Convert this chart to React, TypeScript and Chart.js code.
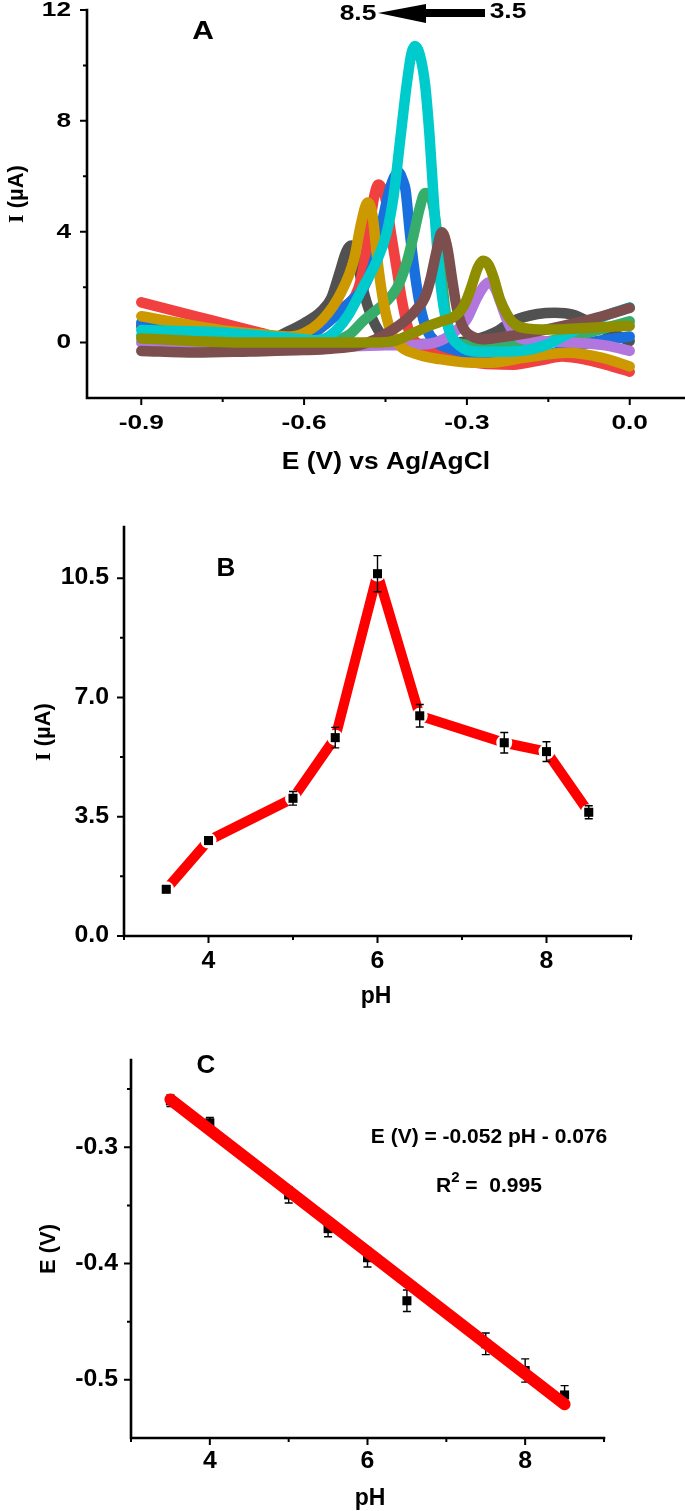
import React, { useEffect, useRef } from 'react';
import { Chart, registerables } from 'chart.js';

Chart.register(...registerables);

const SANS = '"Liberation Sans", Arial, sans-serif';
const SERIF = '"Liberation Serif", "Times New Roman", serif';

// ---------------- Panel A: DPV curves (E in V, I in µA) ----------------
const potentialMajorTicks = [-0.9, -0.6, -0.3, 0.0];
const potentialMinorTicks = [-0.75, -0.45, -0.15];
const currentMajorTicksA = [0, 4, 8, 12];
const currentMinorTicksA = [2, 6, 10];

const curvePH35: [number, number][] = [
  [-0.9, 0.0], [-0.8, -0.05], [-0.7, -0.1], [-0.6, -0.13], [-0.52, -0.13], [-0.45, -0.1], [-0.39, -0.08],
  [-0.355, 0.02], [-0.325, 0.35], [-0.3, 0.85], [-0.282, 1.6], [-0.268, 2.05], [-0.258, 2.18], [-0.248, 1.95],
  [-0.238, 1.45], [-0.227, 0.85], [-0.215, 0.4], [-0.196, 0.12], [-0.15, 0.04], [-0.09, -0.02], [-0.04, -0.12], [0.0, -0.3],
];
const curvePH4: [number, number][] = [
  [-0.9, 0.15], [-0.85, 0.1], [-0.8, 0.05], [-0.7, 0.0], [-0.6, 0.0], [-0.5, 0.0], [-0.46, 0.0], [-0.43, 0.08],
  [-0.4, 0.33], [-0.37, 0.6], [-0.345, 0.78], [-0.322, 0.95], [-0.305, 1.35], [-0.292, 2.0], [-0.28, 2.7],
  [-0.27, 2.95], [-0.26, 2.8], [-0.251, 2.35], [-0.239, 1.55], [-0.227, 1.05], [-0.215, 0.72], [-0.196, 0.53],
  [-0.15, 0.47], [-0.09, 0.52], [-0.03, 0.58], [0.0, 0.6],
];
const curvePH5: [number, number][] = [
  [-0.9, -0.3], [-0.8, -0.36], [-0.7, -0.32], [-0.6, -0.27], [-0.55, -0.22], [-0.5, -0.1], [-0.47, 0.1],
  [-0.44, 0.42], [-0.41, 0.85], [-0.393, 1.2], [-0.378, 1.6], [-0.367, 2.3], [-0.357, 3.2], [-0.346, 3.98],
  [-0.336, 3.4], [-0.327, 2.25], [-0.318, 1.2], [-0.306, 0.5], [-0.29, 0.22], [-0.27, 0.12], [-0.245, 0.17],
  [-0.185, 0.35], [-0.123, 0.6], [-0.06, 0.9], [0.0, 1.25],
];
const curvePH55: [number, number][] = [
  [-0.9, 0.25], [-0.8, 0.12], [-0.7, 0.05], [-0.6, 0.02], [-0.55, 0.05], [-0.516, 0.3], [-0.49, 0.8],
  [-0.47, 1.12], [-0.45, 1.45], [-0.428, 2.0], [-0.41, 2.95], [-0.398, 3.9], [-0.387, 4.85], [-0.377, 5.4],
  [-0.369, 5.35], [-0.361, 4.8], [-0.354, 3.8], [-0.347, 2.5], [-0.34, 1.2], [-0.33, 0.3], [-0.31, -0.05],
  [-0.26, -0.12], [-0.2, -0.05], [-0.15, 0.05], [-0.09, 0.3], [-0.04, 0.55], [0.0, 0.77],
];
const curvePH6: [number, number][] = [
  [-0.9, 0.45], [-0.8, 0.4], [-0.74, 0.35], [-0.66, 0.22], [-0.6, 0.12], [-0.58, 0.08], [-0.552, 0.25],
  [-0.52, 0.95], [-0.49, 2.05], [-0.466, 2.95], [-0.448, 3.95], [-0.435, 5.3], [-0.423, 7.3], [-0.411, 9.3],
  [-0.402, 10.45], [-0.396, 10.7], [-0.387, 10.4], [-0.377, 9.3], [-0.369, 7.5], [-0.362, 5.4], [-0.353, 3.0],
  [-0.343, 1.3], [-0.331, 0.35], [-0.313, -0.12], [-0.28, -0.33], [-0.24, -0.33], [-0.2, -0.3], [-0.153, -0.08],
  [-0.123, 0.22], [-0.092, 0.53], [-0.061, 0.83], [-0.031, 1.07], [0.0, 1.27],
];
const curvePH65: [number, number][] = [
  [-0.9, 0.72], [-0.8, 0.45], [-0.7, 0.2], [-0.62, 0.1], [-0.597, 0.2], [-0.555, 0.75], [-0.516, 1.45],
  [-0.49, 2.0], [-0.47, 3.0], [-0.455, 4.45], [-0.442, 5.55], [-0.426, 6.15], [-0.418, 5.85], [-0.413, 5.5],
  [-0.405, 3.95], [-0.396, 2.5], [-0.386, 1.3], [-0.374, 0.47], [-0.356, 0.0], [-0.325, -0.25], [-0.28, -0.45],
  [-0.2, -0.52], [-0.15, -0.42], [-0.114, -0.22], [-0.07, 0.02], [0.0, 0.22],
];
const curvePH75: [number, number][] = [
  [-0.9, 1.45], [-0.8, 0.95], [-0.74, 0.65], [-0.68, 0.35], [-0.65, 0.2], [-0.62, 0.12], [-0.6, 0.15],
  [-0.581, 0.35], [-0.532, 1.2], [-0.5, 1.95], [-0.488, 3.0], [-0.478, 4.4], [-0.47, 5.35], [-0.463, 5.7],
  [-0.455, 5.5], [-0.448, 5.0], [-0.44, 3.95], [-0.43, 2.75], [-0.42, 1.55], [-0.408, 0.5], [-0.386, -0.13],
  [-0.337, -0.49], [-0.276, -0.75], [-0.215, -0.8], [-0.16, -0.62], [-0.125, -0.5], [-0.08, -0.62],
  [-0.034, -0.85], [0.0, -1.05],
];
const curvePH8: [number, number][] = [
  [-0.9, 0.95], [-0.8, 0.6], [-0.74, 0.42], [-0.68, 0.3], [-0.632, 0.22], [-0.605, 0.3], [-0.565, 0.85],
  [-0.532, 1.8], [-0.508, 3.0], [-0.495, 4.3], [-0.483, 5.05], [-0.474, 4.6], [-0.465, 3.0], [-0.455, 1.6],
  [-0.442, 0.5], [-0.423, -0.12], [-0.396, -0.4], [-0.35, -0.6], [-0.3, -0.72], [-0.26, -0.73], [-0.195, -0.55],
  [-0.114, -0.37], [-0.05, -0.55], [0.0, -0.86],
];
const curvePH85: [number, number][] = [
  [-0.9, 0.6], [-0.8, 0.4], [-0.7, 0.15], [-0.665, 0.12], [-0.63, 0.4], [-0.6, 0.7], [-0.57, 1.1],
  [-0.55, 1.6], [-0.535, 2.5], [-0.522, 3.3], [-0.513, 3.5], [-0.503, 3.0], [-0.491, 1.9], [-0.478, 1.05],
  [-0.46, 0.35], [-0.442, 0.05], [-0.4, -0.05], [-0.3, 0.05], [-0.25, 0.35], [-0.215, 0.78], [-0.17, 1.03],
  [-0.138, 1.08], [-0.104, 1.0], [-0.061, 0.6], [0.0, 0.05],
];

// drawing order: first = bottom, last = top
const curveSeries = [
  { label: 'pH 8.5', color: '#515151', points: curvePH85 },
  { label: 'pH 7.5', color: '#F14040', points: curvePH75 },
  { label: 'pH 6.5', color: '#1A6FDF', points: curvePH65 },
  { label: 'pH 5.5', color: '#37AD6B', points: curvePH55 },
  { label: 'pH 3.5', color: '#B177DE', points: curvePH35 },
  { label: 'pH 8', color: '#CC9900', points: curvePH8 },
  { label: 'pH 6', color: '#00CBCC', points: curvePH6 },
  { label: 'pH 5', color: '#7D4E4E', points: curvePH5 },
  { label: 'pH 4', color: '#8E8E00', points: curvePH4 },
];

// ---------------- Panel B: peak current vs pH ----------------
const pHValues = [3.5, 4, 5, 5.5, 6, 6.5, 7.5, 8, 8.5];
const peakCurrent = [1.37, 2.8, 4.04, 5.82, 10.63, 6.46, 5.67, 5.41, 3.63];
const peakCurrentErr = [0.05, 0.1, 0.2, 0.3, 0.53, 0.33, 0.3, 0.29, 0.19];
const pHMajorTicks = [4, 6, 8];
const pHMinorTicks = [3, 5, 7, 9];
const currentMajorTicksB = [0, 3.5, 7, 10.5];
const currentMinorTicksB = [1.75, 5.25, 8.75];

// ---------------- Panel C: peak potential vs pH ----------------
const peakPotential = [-0.26, -0.279, -0.341, -0.37, -0.395, -0.432, -0.469, -0.492, -0.513];
const peakPotentialErr = [0.005, 0.0045, 0.007, 0.007, 0.008, 0.0093, 0.0093, 0.01, 0.008];
const fitPH = [3.5, 8.5];
const fitPotential = [-0.259, -0.521];
const potentialMajorTicksC = [-0.3, -0.4, -0.5];
const potentialMinorTicksC = [-0.25, -0.35, -0.45];

// ---------------- drawing helpers ----------------
type Run = { t: string; font: string; dy?: number };
type TextItem = {
  runs: Run[]; x: number; y: number; align?: 'left' | 'center' | 'right';
  rotate?: number; sx?: number; baseline?: CanvasTextBaseline;
};

function drawRuns(ctx: CanvasRenderingContext2D, item: TextItem) {
  const { runs, x, y, align = 'center', rotate = 0, sx = 1, baseline = 'middle' } = item;
  ctx.save();
  ctx.translate(x, y);
  if (rotate) ctx.rotate(rotate);
  ctx.scale(sx, 1);
  ctx.fillStyle = '#000';
  ctx.textBaseline = baseline;
  ctx.textAlign = 'left';
  let total = 0;
  const widths = runs.map((r) => {
    ctx.font = r.font;
    const w = ctx.measureText(r.t).width;
    total += w;
    return w;
  });
  let cx = align === 'left' ? 0 : align === 'center' ? -total / 2 : -total;
  runs.forEach((r, i) => {
    ctx.font = r.font;
    ctx.fillText(r.t, cx, r.dy || 0);
    cx += widths[i];
  });
  ctx.restore();
}

type FrameCfg = {
  id: string;
  xMajor: number[]; xMinor: number[]; yMajor: number[]; yMinor: number[];
  xFmt: (v: number) => string; yFmt: (v: number) => string;
  tickFont: string; tickSx?: number;
  xLabelOffset: number; yLabelOffset: number;
  texts: TextItem[];
  errors?: { values: number[]; xs: number[]; errs: number[]; layer: 'before' | 'after' };
  extra?: (ctx: CanvasRenderingContext2D) => void;
};

function drawErrors(chart: any, cfg: FrameCfg) {
  if (!cfg.errors) return;
  const { ctx, scales } = chart;
  const { values, xs, errs } = cfg.errors;
  ctx.save();
  ctx.strokeStyle = '#000';
  ctx.lineWidth = 1.4;
  values.forEach((v, i) => {
    const px = scales.x.getPixelForValue(xs[i]);
    const y1 = scales.y.getPixelForValue(v + errs[i]);
    const y2 = scales.y.getPixelForValue(v - errs[i]);
    ctx.beginPath();
    ctx.moveTo(px, y1); ctx.lineTo(px, y2);
    ctx.moveTo(px - 4, y1); ctx.lineTo(px + 4, y1);
    ctx.moveTo(px - 4, y2); ctx.lineTo(px + 4, y2);
    ctx.stroke();
  });
  ctx.restore();
}

function makeFrame(cfg: FrameCfg) {
  return {
    id: cfg.id,
    beforeDatasetsDraw(chart: any) {
      if (cfg.errors && cfg.errors.layer === 'before') drawErrors(chart, cfg);
    },
    afterDatasetsDraw(chart: any) {
      if (cfg.errors && cfg.errors.layer === 'after') drawErrors(chart, cfg);
    },
    afterDraw(chart: any) {
      const { ctx, chartArea: a, scales } = chart;
      const xs = scales.x, ys = scales.y;
      ctx.save();
      ctx.strokeStyle = '#000';
      ctx.lineWidth = 2.6;
      ctx.lineCap = 'square';
      ctx.beginPath();
      ctx.moveTo(a.left, a.top);
      ctx.lineTo(a.left, a.bottom);
      ctx.lineTo(a.right, a.bottom);
      ctx.stroke();
      ctx.lineCap = 'butt';
      ctx.lineWidth = 2;
      ctx.beginPath();
      cfg.xMajor.forEach((v) => { const p = xs.getPixelForValue(v); ctx.moveTo(p, a.bottom); ctx.lineTo(p, a.bottom + 7); });
      cfg.xMinor.forEach((v) => { const p = xs.getPixelForValue(v); ctx.moveTo(p, a.bottom); ctx.lineTo(p, a.bottom + 4); });
      cfg.yMajor.forEach((v) => { const p = ys.getPixelForValue(v); ctx.moveTo(a.left, p); ctx.lineTo(a.left - 7, p); });
      cfg.yMinor.forEach((v) => { const p = ys.getPixelForValue(v); ctx.moveTo(a.left, p); ctx.lineTo(a.left - 4, p); });
      ctx.stroke();
      ctx.restore();
      cfg.xMajor.forEach((v) => drawRuns(ctx, {
        runs: [{ t: cfg.xFmt(v), font: cfg.tickFont }], x: xs.getPixelForValue(v), y: a.bottom + cfg.xLabelOffset,
        align: 'center', sx: cfg.tickSx,
      }));
      cfg.yMajor.forEach((v) => drawRuns(ctx, {
        runs: [{ t: cfg.yFmt(v), font: cfg.tickFont }], x: a.left - cfg.yLabelOffset, y: ys.getPixelForValue(v),
        align: 'right', sx: cfg.tickSx,
      }));
      cfg.texts.forEach((t) => drawRuns(ctx, t));
      if (cfg.extra) cfg.extra(ctx);
    },
  };
}

function baseOptions(xMin: number, xMax: number, yMin: number, yMax: number, padding: any) {
  return {
    animation: false,
    responsive: false,
    maintainAspectRatio: false,
    devicePixelRatio: 1,
    layout: { padding },
    plugins: { legend: { display: false }, tooltip: { enabled: false } },
    scales: {
      x: { type: 'linear', min: xMin, max: xMax, display: false },
      y: { type: 'linear', min: yMin, max: yMax, display: false },
    },
  };
}

function buildA(): any {
  return {
    type: 'line',
    data: {
      datasets: curveSeries.map((s, i) => ({
        label: s.label,
        data: s.points.map(([x, y]) => ({ x, y })),
        borderColor: s.color,
        backgroundColor: s.color,
        borderWidth: 10.5,
        pointRadius: 0,
        cubicInterpolationMode: 'monotone',
        borderCapStyle: 'round',
        borderJoinStyle: 'round',
        fill: false,
        order: curveSeries.length - i,
      })),
    },
    options: baseOptions(-1.0, 0.1, -2, 12, { left: 87, right: 1, top: 10, bottom: 92 }),
    plugins: [makeFrame({
      id: 'frameA',
      xMajor: potentialMajorTicks, xMinor: potentialMinorTicks,
      yMajor: currentMajorTicksA, yMinor: currentMinorTicksA,
      xFmt: (v) => v.toFixed(1), yFmt: (v) => String(v),
      tickFont: `bold 21px ${SANS}`, tickSx: 1.25,
      xLabelOffset: 25, yLabelOffset: 16,
      texts: [
        { runs: [{ t: 'E (V) vs Ag/AgCl', font: `bold 24px ${SANS}` }], x: 386, y: 462, sx: 1.1 },
        { runs: [{ t: 'I', font: `bold 22px ${SERIF}` }, { t: ' (µA)', font: `bold 22px ${SANS}` }], x: 17, y: 194, rotate: -Math.PI / 2 },
        { runs: [{ t: 'A', font: `bold 25px ${SANS}` }], x: 203, y: 32, sx: 1.2 },
        { runs: [{ t: '8.5', font: `bold 22px ${SANS}` }], x: 358, y: 14, sx: 1.2 },
        { runs: [{ t: '3.5', font: `bold 22px ${SANS}` }], x: 508, y: 12, sx: 1.2 },
      ],
      extra: (ctx) => {
        ctx.save();
        ctx.fillStyle = '#000';
        ctx.fillRect(424, 9, 61, 8);
        ctx.beginPath();
        ctx.moveTo(378, 13);
        ctx.lineTo(426, 4);
        ctx.lineTo(426, 23);
        ctx.closePath();
        ctx.fill();
        ctx.restore();
      },
    })],
  };
}

function buildB(): any {
  const pts = pHValues.map((x, i) => ({ x, y: peakCurrent[i] }));
  return {
    type: 'line',
    data: {
      datasets: [
        { data: pts, showLine: false, pointStyle: 'rect', pointRadius: 6.4, pointBackgroundColor: '#000', pointBorderWidth: 0, order: 0 },
        { data: pts, showLine: false, pointStyle: 'circle', pointRadius: 8, pointBackgroundColor: '#fff', pointBorderWidth: 0, order: 1 },
        { data: pts, borderColor: '#FF0000', borderWidth: 10, pointRadius: 0, borderJoinStyle: 'bevel', borderCapStyle: 'butt', tension: 0, order: 2 },
      ],
    },
    options: baseOptions(3, 9, 0, 12, { left: 124, right: 54, top: 37, bottom: 84 }),
    plugins: [makeFrame({
      id: 'frameB',
      xMajor: pHMajorTicks, xMinor: pHMinorTicks,
      yMajor: currentMajorTicksB, yMinor: currentMinorTicksB,
      xFmt: (v) => String(v), yFmt: (v) => v.toFixed(1),
      tickFont: `bold 23px ${SANS}`, tickSx: 1.08,
      xLabelOffset: 26, yLabelOffset: 15,
      texts: [
        { runs: [{ t: 'pH', font: `bold 23px ${SANS}` }], x: 376, y: 997 - 490 },
        { runs: [{ t: 'I', font: `bold 22px ${SERIF}` }, { t: ' (µA)', font: `bold 22px ${SANS}` }], x: 44, y: 242, rotate: -Math.PI / 2 },
        { runs: [{ t: 'B', font: `bold 26px ${SANS}` }], x: 226, y: 79 },
      ],
      errors: { values: peakCurrent, xs: pHValues, errs: peakCurrentErr, layer: 'after' },
    })],
  };
}

function buildC(): any {
  const pts = pHValues.map((x, i) => ({ x, y: peakPotential[i] }));
  const fit = fitPH.map((x, i) => ({ x, y: fitPotential[i] }));
  return {
    type: 'line',
    data: {
      datasets: [
        { data: fit, borderColor: '#FF0000', borderWidth: 12, pointRadius: 0, borderCapStyle: 'round', order: 0 },
        { data: pts, showLine: false, pointStyle: 'rect', pointRadius: 6.4, pointBackgroundColor: '#000', pointBorderWidth: 0, order: 1 },
      ],
    },
    options: baseOptions(3, 9, -0.55, -0.225, { left: 131, right: 81, top: 40, bottom: 73 }),
    plugins: [makeFrame({
      id: 'frameC',
      xMajor: pHMajorTicks, xMinor: pHMinorTicks,
      yMajor: potentialMajorTicksC, yMinor: potentialMinorTicksC,
      xFmt: (v) => String(v), yFmt: (v) => v.toFixed(1),
      tickFont: `bold 23px ${SANS}`, tickSx: 1.08,
      xLabelOffset: 24, yLabelOffset: 13,
      texts: [
        { runs: [{ t: 'pH', font: `bold 23px ${SANS}` }], x: 370, y: 479 },
        { runs: [{ t: 'E (V)', font: `bold 22px ${SANS}` }], x: 49, y: 229, rotate: -Math.PI / 2 },
        { runs: [{ t: 'C', font: `bold 26px ${SANS}` }], x: 206, y: 46 },
        { runs: [{ t: 'E (V) = -0.052 pH - 0.076', font: `bold 21px ${SANS}` }], x: 489, y: 117 },
        {
          runs: [
            { t: 'R', font: `bold 21px ${SANS}` },
            { t: '2', font: `bold 15px ${SANS}`, dy: -10 },
            { t: ' =  0.995', font: `bold 21px ${SANS}` },
          ],
          x: 436, y: 172, align: 'left', baseline: 'alphabetic',
        },
      ],
      errors: { values: peakPotential, xs: pHValues, errs: peakPotentialErr, layer: 'before' },
    })],
  };
}

function Panel({ top, height, build }: { top: number; height: number; build: () => any }) {
  const ref = useRef<HTMLCanvasElement | null>(null);
  useEffect(() => {
    if (!ref.current) return;
    const chart = new Chart(ref.current, build());
    return () => chart.destroy();
  }, []);
  return (
    <canvas
      ref={ref}
      width={685}
      height={height}
      style={{ position: 'absolute', left: 0, top, width: 685, height, display: 'block' }}
    />
  );
}

export default function App() {
  return (
    <div style={{ position: 'absolute', left: 0, top: 0, width: 685, height: 1511, background: '#fff', overflow: 'hidden' }}>
      <Panel top={0} height={490} build={buildA} />
      <Panel top={490} height={530} build={buildB} />
      <Panel top={1020} height={491} build={buildC} />
    </div>
  );
}
